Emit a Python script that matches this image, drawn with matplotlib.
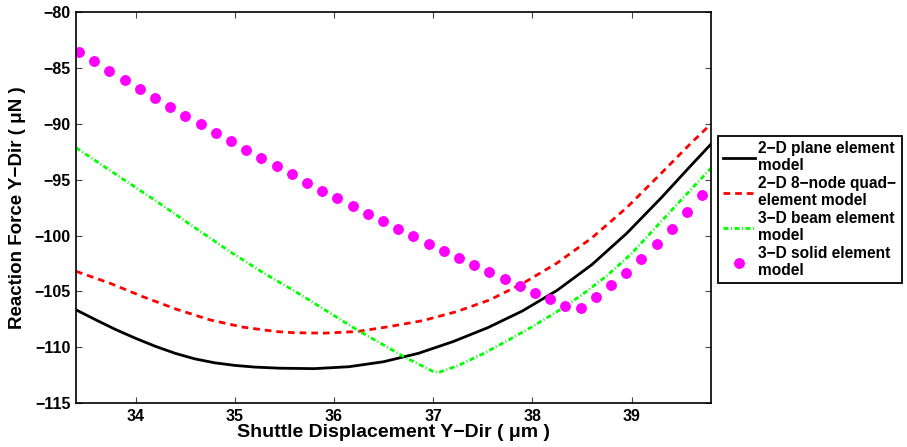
import matplotlib
matplotlib.use('Agg')
import matplotlib.pyplot as plt

plt.rcParams['font.family'] = ['Liberation Sans', 'DejaVu Sans']
plt.rcParams['font.weight'] = 'bold'

# 2-D plane element model
planeX = [33.40, 33.60, 33.80, 34.00, 34.20, 34.40, 34.60, 34.80, 35.00, 35.20, 35.45, 35.80,
          36.15, 36.50, 36.85, 37.20, 37.55, 37.90, 38.25, 38.60, 38.95, 39.30, 39.60, 39.80]
planeY = [-106.65, -107.55, -108.42, -109.2, -109.92, -110.55, -111.05, -111.4, -111.63, -111.78, -111.88, -111.92,
          -111.75, -111.3, -110.55, -109.5, -108.25, -106.75, -104.9, -102.6, -99.8, -96.6, -93.7, -91.8]

# 2-D 8-node quad element model
quadX = [33.40, 33.74, 34.07, 34.41, 34.75, 35.08, 35.42, 35.60, 35.90, 36.23,
         36.56, 36.90, 37.24, 37.57, 37.90, 38.25, 38.60, 38.95, 39.30, 39.60, 39.80]
quadY = [-103.2, -104.26, -105.46, -106.59, -107.55, -108.2, -108.6, -108.7, -108.74, -108.6,
         -108.15, -107.61, -106.8, -105.76, -104.3, -102.45, -100.2, -97.5, -94.4, -91.7, -90.0]

# 3-D beam element model
beamX = [33.40, 33.80, 34.18, 34.55, 34.95, 35.30, 35.60, 35.90, 36.23, 36.50, 36.70, 37.00, 37.05,
         37.25, 37.50, 37.75, 38.00, 38.25, 38.50, 38.75, 39.00, 39.25, 39.50, 39.80]
beamY = [-92.12, -94.5, -96.74, -99.0, -101.43, -103.4, -104.95, -106.6, -108.44, -109.8, -110.83, -112.18, -112.27,
         -111.65, -110.6, -109.4, -108.15, -106.8, -105.3, -103.6, -101.6, -99.2, -96.8, -93.96]

# 3-D solid element model
solidX = [33.430, 33.583, 33.736, 33.890, 34.043, 34.196, 34.349, 34.502, 34.656, 34.809,
          34.962, 35.115, 35.268, 35.422, 35.575, 35.728, 35.881, 36.034, 36.188, 36.341,
          36.494, 36.647, 36.800, 36.954, 37.107, 37.260, 37.413, 37.566, 37.720, 37.873,
          38.026, 38.179, 38.332, 38.486, 38.639, 38.792, 38.945, 39.098, 39.252, 39.405,
          39.558, 39.711]
solidY = [-83.52, -84.38, -85.22, -86.03, -86.86, -87.67, -88.47, -89.25, -90.02, -90.80,
          -91.54, -92.32, -93.07, -93.78, -94.52, -95.25, -95.97, -96.65, -97.37, -98.05,
          -98.71, -99.40, -100.05, -100.74, -101.40, -102.02, -102.65, -103.28, -103.90, -104.53,
          -105.10, -105.69, -106.27, -106.47, -105.52, -104.44, -103.31, -102.06, -100.77, -99.37,
          -97.88, -96.33]

labels = ['2\u2212D plane element\nmodel',
          '2\u2212D 8\u2212node quad\u2212\nelement model',
          '3\u2212D beam element\nmodel',
          '3\u2212D solid element\nmodel']

fig = plt.figure(figsize=(9.07, 4.47), dpi=100)
ax = fig.add_axes([0.0838, 0.0984, 0.7001, 0.8739])

ax.plot(planeX, planeY, color='black', lw=2, label=labels[0])
ax.plot(quadX, quadY, color='red', lw=2, dashes=(2.4, 1.8), label=labels[1])
ax.plot(beamX, beamY, color='#00ff00', lw=2, dashes=(1.8, 0.9, 0.35, 0.9), label=labels[2])
ax.plot(solidX, solidY, ls='none', marker='o', ms=6.8, color='magenta', mec='magenta', label=labels[3])

ax.set_xlim(33.4, 39.8)
ax.set_ylim(-115, -80)
ax.set_xticks([34, 35, 36, 37, 38, 39])
ax.set_yticks([-115, -110, -105, -100, -95, -90, -85, -80])
ax.tick_params(direction='in', length=4.5, width=0.8, top=True, right=True,
               labelsize=11.5, color='#444444', pad=4)
for s in ax.spines.values():
    s.set_linewidth(1.2)

ax.set_xlabel('Shuttle Displacement Y\u2212Dir ( \u03bcm )', fontsize=14, fontweight='bold', labelpad=0)
ax.set_ylabel('Reaction Force Y\u2212Dir ( \u03bcN )', fontsize=13.5, fontweight='bold', labelpad=6)

leg = fig.legend(loc='upper left', bbox_to_anchor=(718 / 907, 1 - 136 / 447), borderaxespad=0,
                 fancybox=False, framealpha=1, edgecolor='black', fontsize=11.2,
                 handlelength=2.0, handletextpad=0.25, labelspacing=0.2, numpoints=1,
                 borderpad=0.35)
leg.get_frame().set_linewidth(1.3)
for t in leg.get_texts():
    t.set_fontweight('bold')
    t.set_linespacing(1.15)

fig.savefig('out.png', dpi=100)
